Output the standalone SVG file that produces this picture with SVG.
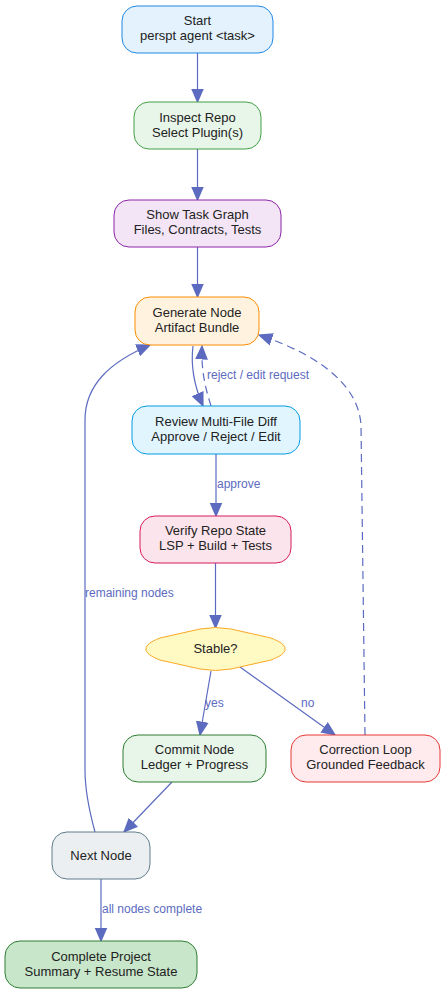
<svg xmlns="http://www.w3.org/2000/svg" width="448" height="995" viewBox="0 0 448 995">
<defs>
<marker id="ahb" viewBox="0 0 10 10" refX="9" refY="5" markerWidth="15" markerHeight="15" markerUnits="userSpaceOnUse" orient="auto"><path d="M0,0.7 L10,5 L0,9.3 z" fill="#5c6bc0"/></marker>
</defs>
<style>
text{font-family:"Liberation Sans",Arial,sans-serif;}
.n text{font-size:13px;fill:#222;text-anchor:middle;}
.e{fill:none;stroke:#5c6bc0;stroke-width:1.2;marker-end:url(#ahb);}
.d{stroke-dasharray:8,5;}
.l{font-size:12px;fill:#5c6bc0;}
</style>
<rect width="448" height="995" fill="#fff"/>
<g id="edges">
<path class="e" d="M197.5,53 L197.5,102"/>
<path class="e" d="M197.5,149 L197.5,200"/>
<path class="e" d="M197.5,247 L197.5,297"/>
<path class="e" d="M193,346 C190,370 196,390 203,406"/>
<path class="e d" d="M211,406 C206,390 201,372 202,346"/>
<text class="l" x="207" y="379">reject / edit request</text>
<path class="e d" d="M365,735 L361,425 C358,380 310,352 259,335"/>
<path class="e" d="M216,454 L216,516"/>
<text class="l" x="217" y="488">approve</text>
<path class="e" d="M215.5,563 L215.5,628"/>
<path class="e" d="M211,671 L200,735"/>
<text class="l" x="205" y="707">yes</text>
<path class="e" d="M240,667 L335,735"/>
<text class="l" x="301" y="707">no</text>
<path class="e" d="M172,782 L124,832"/>
<path class="e" d="M95,832 C89,810 85,790 85,770 L85,420 C85,385 110,362 150,345"/>
<text class="l" x="85" y="597">remaining nodes</text>
<path class="e" d="M101,879 L101,941"/>
<text class="l" x="102" y="913">all nodes complete</text>
</g>
<g id="start" class="n"><rect x="122" y="6" width="151" height="47" rx="15" fill="#e3f2fd" stroke="#1e88e5"/><text x="197.5" y="25">Start</text><text x="197.5" y="40">perspt agent &lt;task&gt;</text></g>
<g id="inspect" class="n"><rect x="134" y="102" width="127" height="47" rx="15" fill="#e8f5e9" stroke="#43a047"/><text x="197.5" y="122">Inspect Repo</text><text x="197.5" y="137">Select Plugin(s)</text></g>
<g id="graph" class="n"><rect x="114" y="200" width="167" height="47" rx="15" fill="#f3e5f5" stroke="#8e24aa"/><text x="197.5" y="219">Show Task Graph</text><text x="197.5" y="234">Files, Contracts, Tests</text></g>
<g id="generate" class="n"><rect x="135" y="297" width="124" height="48" rx="15" fill="#fff3e0" stroke="#fb8c00"/><text x="197" y="317">Generate Node</text><text x="197" y="332">Artifact Bundle</text></g>
<g id="review" class="n"><rect x="132" y="406" width="168" height="48" rx="15" fill="#e1f5fe" stroke="#039be5"/><text x="216" y="426">Review Multi-File Diff</text><text x="216" y="441">Approve / Reject / Edit</text></g>
<g id="verify" class="n"><rect x="140" y="516" width="151" height="47" rx="15" fill="#fce4ec" stroke="#d81b60"/><text x="215.5" y="535">Verify Repo State</text><text x="215.5" y="550">LSP + Build + Tests</text></g>
<g id="stable" class="n"><path d="M146,649 C146,645 150,642 160,638 L200,629 Q215.5,626 231,629 L271,638 C281,642 285,645 285,649 C285,653 281,656 271,660 L231,669 Q215.5,672 200,669 L160,660 C150,656 146,653 146,649 Z" fill="#fff9c4" stroke="#f9a825"/><text x="215.5" y="653">Stable?</text></g>
<g id="commit" class="n"><rect x="123" y="735" width="143" height="47" rx="15" fill="#e8f5e9" stroke="#2e7d32"/><text x="194.5" y="754">Commit Node</text><text x="194.5" y="769">Ledger + Progress</text></g>
<g id="correction" class="n"><rect x="291" y="735" width="149" height="47" rx="15" fill="#ffebee" stroke="#e53935"/><text x="365.5" y="754">Correction Loop</text><text x="365.5" y="769">Grounded Feedback</text></g>
<g id="next" class="n"><rect x="52" y="832" width="98" height="47" rx="15" fill="#eceff1" stroke="#607d8b"/><text x="101" y="860">Next Node</text></g>
<g id="complete" class="n"><rect x="5" y="941" width="192" height="47" rx="15" fill="#c8e6c9" stroke="#2e7d32"/><text x="101" y="961">Complete Project</text><text x="101" y="976">Summary + Resume State</text></g>
</svg>
